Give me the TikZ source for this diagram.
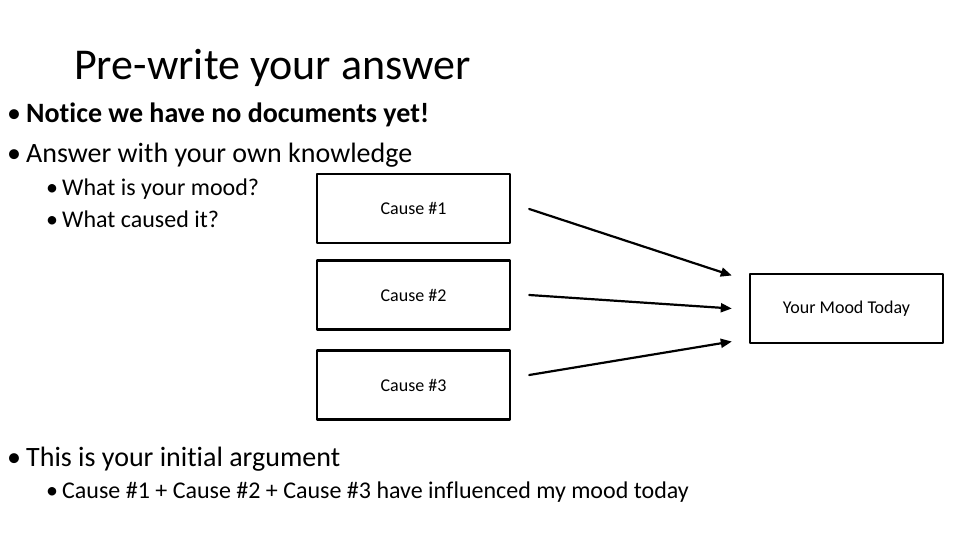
\documentclass[tikz,border=0pt]{standalone}
\usepackage{fontspec}
\setmainfont{Carlito}[Ligatures=CommonOff]
\usetikzlibrary{arrows.meta,calc}

\tikzset{
  causebox/.style={draw,line width=2.4pt,minimum width=193pt,minimum height=69pt,inner sep=0pt,font=\fontsize{18}{20}\selectfont},
  lvlone/.style={anchor=base west,inner sep=0pt,font=\fontsize{28}{32}\selectfont},
  lvltwo/.style={anchor=base west,inner sep=0pt,font=\fontsize{24}{28}\selectfont},
  push/.style={line width=2.2pt,-{Triangle[length=11pt,width=9pt]}}
}

\begin{document}
\begin{tikzpicture}[x=1pt,y=-1pt,line cap=round,line join=round]
  \useasboundingbox (0,0) rectangle (960,540);

  % Title and first bullets.
  \node[anchor=base west,inner sep=0pt,font=\fontsize{44}{48}\selectfont] (title) at (74,80) {Pre-write your answer};
  \node[lvlone] (notice) at (7,123) {\makebox[19pt][l]{•}\textbf{Notice we have no documents yet!}};
  \node[lvlone] (answer) at (7,163) {\makebox[19pt][l]{•}Answer with your own knowledge};
  \node[lvltwo] (mood) at (46,196) {\makebox[16pt][l]{•}What is your mood?};
  \node[lvltwo] (caused) at (46,227) {\makebox[16pt][l]{•}What caused it?};

  % Cause boxes and the mood box.
  \node[causebox] (causeA) at (413.5,208.5) {Cause \#1};
  \node[causebox] (causeB) at (413.5,295) {Cause \#2};
  \node[causebox] (causeC) at (413.5,385) {Cause \#3};
  \node[causebox] (today) at (846.5,308.5) {Your Mood Today};

  % Arrows into the mood box.
  \coordinate (outA) at ($(causeA.east)+(18,0.5)$);
  \coordinate (outB) at ($(causeB.east)+(18,0)$);
  \coordinate (outC) at ($(causeC.east)+(18,-10)$);
  \coordinate (inA) at ($(today.west)+(-17,-33)$);
  \coordinate (inB) at ($(today.west)+(-17,0)$);
  \coordinate (inC) at ($(today.west)+(-17,33)$);
  \draw[push] (outA) -- (inA);
  \draw[push] (outB) -- (inB);
  \draw[push] (outC) -- (inC);

  % Closing bullets.
  \node[lvlone] (argument) at (7,466) {\makebox[19pt][l]{•}This is your initial argument};
  \node[lvltwo] (influence) at (46,498) {\makebox[16pt][l]{•}Cause \#1 + Cause \#2 + Cause \#3 have influenced my mood today};
\end{tikzpicture}
\end{document}
